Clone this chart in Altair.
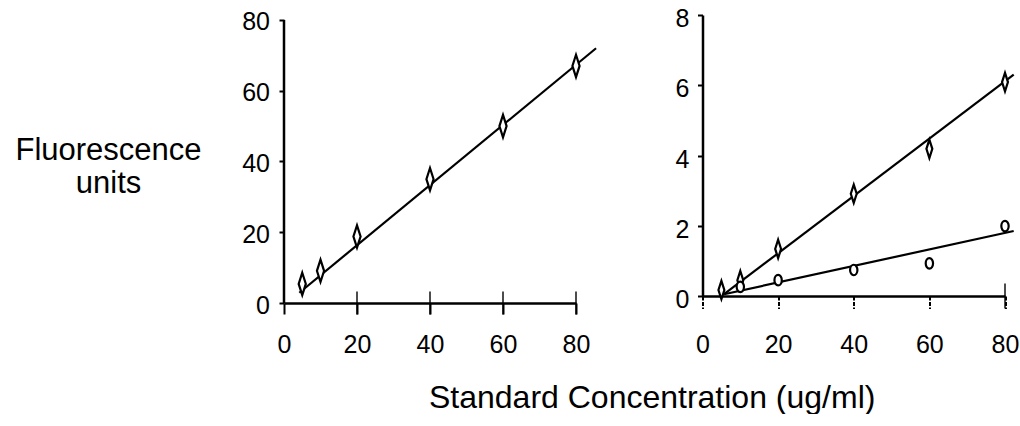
import altair as alt
import pandas as pd

# ---------------- data ----------------
conc = [5, 10, 20, 40, 60, 80]
left_vals = [5.4, 9.1, 18.8, 35.0, 50.0, 67.0]
left_fit_x = [4.2, 85.5]
left_fit_y = [2.9, 72.0]

right_upper = [0.17, 0.45, 1.34, 2.91, 4.19, 6.09]
right_upper_fit_x = [5.7, 82.3]
right_upper_fit_y = [0.05, 6.3]

right_lower_x = [10, 20, 40, 60, 80]
right_lower = [0.26, 0.45, 0.74, 0.93, 1.99]
right_lower_fit_x = [5.7, 82.3]
right_lower_fit_y = [0.05, 1.85]

x_ticks = [0, 20, 40, 60, 80]
left_cross_ticks = [20, 40, 60, 80]
right_cross_ticks = [80]
left_y_ticks = [0, 20, 40, 60, 80]
right_y_ticks = [0, 2, 4, 6, 8]

y_title = ["Fluorescence", "units"]
x_title = "Standard Concentration (ug/ml)"

FONT = "Liberation Sans"
DIAMOND = "M0,-1L0.32,0L0,1L-0.32,0Z"
OVAL = "M0,-1A0.7,1 0 1 1 0,1A0.7,1 0 1 1 0,-1Z"

# ---------------- left panel ----------------
LW, LH = 292, 288
lxs = alt.Scale(domain=[0, 80], nice=False, zero=False)
lys = alt.Scale(domain=[0, 81.4], nice=False, zero=False)

left_pts = pd.DataFrame({"x": conc, "y": left_vals})
left_fit = pd.DataFrame({"x": left_fit_x, "y": left_fit_y})
left_yline = pd.DataFrame({"x": [0], "y": [left_y_ticks[0]], "y2": [left_y_ticks[-1]]})
left_ct = pd.DataFrame({"x": left_cross_ticks, "y": [0] * len(left_cross_ticks)})

l_base = alt.Chart(left_pts).mark_point(
    shape=DIAMOND, size=500, filled=True, fill="white", stroke="black", strokeWidth=2.2, opacity=1
).encode(
    x=alt.X("x:Q", scale=lxs, axis=alt.Axis(values=x_ticks, title=None, grid=False,
                                             labelFlush=False,
                                             tickSize=11, labelPadding=18)),
    y=alt.Y("y:Q", scale=lys, axis=alt.Axis(values=left_y_ticks, title=y_title, grid=False,
                                             domain=False, tickSize=5, labelPadding=9.5,
                                             labelOffset=2, labelFlush=False,
                                             titleAngle=0, titleAlign="center",
                                             titleBaseline="alphabetic",
                                             titleX=-176, titleY=144.5,
                                             titleFontSize=31, titleLineHeight=32.5)),
)
l_line = alt.Chart(left_fit).mark_line(color="black", strokeWidth=2.2).encode(
    x=alt.X("x:Q", scale=lxs), y=alt.Y("y:Q", scale=lys))
l_yaxis = alt.Chart(left_yline).mark_rule(color="black", strokeWidth=2.5).encode(
    x=alt.X("x:Q", scale=lxs), y=alt.Y("y:Q", scale=lys), y2="y2:Q")
l_ticks = alt.Chart(left_ct).mark_tick(orient="vertical", size=23, thickness=2, color="black").encode(
    x=alt.X("x:Q", scale=lxs), y=alt.Y("y:Q", scale=lys))

left = alt.layer(l_line, l_base, l_yaxis, l_ticks).properties(width=LW, height=LH)

# ---------------- right panel ----------------
RW, RH = 302.5, 281
rxs = alt.Scale(domain=[0, 80], nice=False, zero=False)
rys = alt.Scale(domain=[0, 8], nice=False, zero=False)

r_up = pd.DataFrame({"x": conc, "y": right_upper})
r_lo = pd.DataFrame({"x": right_lower_x, "y": right_lower})
r_fit = pd.DataFrame({
    "x": right_upper_fit_x + right_lower_fit_x,
    "y": right_upper_fit_y + right_lower_fit_y,
    "s": ["upper", "upper", "lower", "lower"],
})
r_ct = pd.DataFrame({"x": right_cross_ticks, "y": [0] * len(right_cross_ticks)})

r_up_pts = alt.Chart(r_up).mark_point(
    shape=DIAMOND, size=340, filled=True, fill="white", stroke="black", strokeWidth=2.2, opacity=1
).encode(
    x=alt.X("x:Q", scale=rxs, axis=alt.Axis(values=x_ticks, title=None, grid=False,
                                             labelFlush=False,
                                             tickSize=12.5, tickDash=[4, 1.5], labelPadding=24.3)),
    y=alt.Y("y:Q", scale=rys, axis=alt.Axis(values=right_y_ticks, title=None, grid=False,
                                             labelFlush=False,
                                             tickSize=5, labelPadding=8.7, labelOffset=3.5)),
)
r_lo_pts = alt.Chart(r_lo).mark_point(
    shape=OVAL, size=110, filled=True, fill="white", stroke="black", strokeWidth=2.2, opacity=1
).encode(x=alt.X("x:Q", scale=rxs), y=alt.Y("y:Q", scale=rys))
r_lines = alt.Chart(r_fit).mark_line(color="black", strokeWidth=2.2).encode(
    x=alt.X("x:Q", scale=rxs), y=alt.Y("y:Q", scale=rys), detail="s:N")
r_ticks = alt.Chart(r_ct).mark_tick(orient="vertical", size=25, thickness=2, color="black").encode(
    x=alt.X("x:Q", scale=rxs), y=alt.Y("y:Q", scale=rys))

right = alt.layer(r_lines, r_up_pts, r_lo_pts, r_ticks).properties(width=RW, height=RH)

chart = alt.hconcat(left, right, spacing=126.5, bounds="flush").properties(
    title=alt.TitleParams(x_title, orient="bottom", anchor="start", frame="bounds",
                          fontSize=32, font=FONT, fontWeight="normal", color="black",
                          offset=25, dx=414),
    padding={"left": 14, "top": 6, "right": 0, "bottom": 0},
).configure_axis(
    labelFont=FONT, labelFontSize=25, labelColor="black",
    titleFont=FONT, titleColor="black", titleFontWeight="normal",
    domainColor="black", domainWidth=2.5, tickColor="black", tickWidth=2,
).configure_view(stroke=None)

chart.save("out.html", embed_options={"renderer": "svg", "actions": False})
